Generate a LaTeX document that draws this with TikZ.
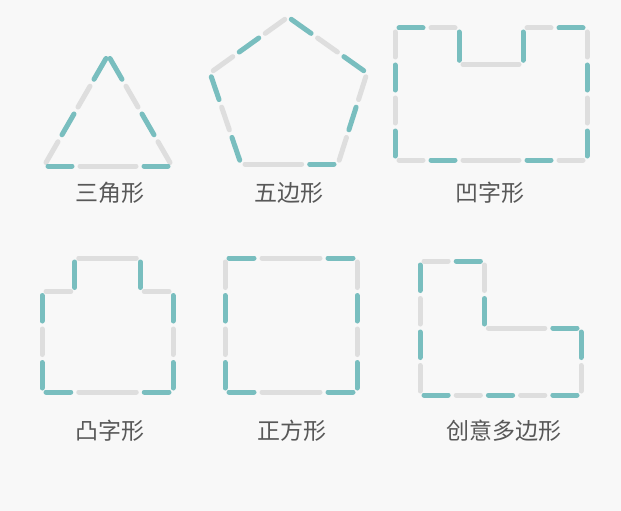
\documentclass[tikz,border=0pt]{standalone}
\usepackage{fontspec}
\newfontfamily\cjk{Noto Sans CJK SC}
\usepackage{tikz}
\usetikzlibrary{calc}
\definecolor{StickTeal}{RGB}{121,190,191}
\definecolor{StickGray}{RGB}{222,222,222}
\definecolor{PageBg}{RGB}{248,248,248}
\definecolor{LabelGray}{RGB}{88,88,88}
\tikzset{
	bar/.style={line width=5pt, line cap=round, shorten >=4pt, shorten <=4pt},
	tealbar/.style={bar, StickTeal},
	graybar/.style={bar, StickGray},
	shapelabel/.style={text=LabelGray, font=\cjk\fontsize{23}{27}\selectfont, inner sep=0pt},
}

\begin{document}
\begin{tikzpicture}[x=1pt, y=-1pt]
	
	% Background and page size
	\fill[PageBg] (0,0) rectangle (621,511);
	\useasboundingbox (0,0) rectangle (621,511);
	
	% Triangle
	\coordinate (TT) at (108,55);
	\coordinate (TL) at (44,166);
	\coordinate (TR) at (172,166);
	\foreach \c [count=\i from 0] in {tealbar,graybar,tealbar,graybar}{
		\draw[\c] ($(TT)!\i/4!(TL)$) -- ($(TT)!\i/4+0.25!(TL)$);
		\draw[\c] ($(TT)!\i/4!(TR)$) -- ($(TT)!\i/4+0.25!(TR)$);
	}
	\draw[tealbar] (TL) -- ($(TL)!0.25!(TR)$);
	\draw[graybar] ($(TL)!0.25!(TR)$) -- ($(TL)!0.75!(TR)$);
	\draw[tealbar] ($(TL)!0.75!(TR)$) -- (TR);
	\node[shapelabel] (lblTri) at (110,193) {三角形};
	
	% Pentagon
	\coordinate (PT) at (288,17);
	\coordinate (PL) at (210,73);
	\coordinate (PR) at (367,73);
	\coordinate (PBL) at (241,164);
	\coordinate (PBR) at (338,164);
	\foreach \p/\q/\ca/\cb/\cc in {PT/PL/graybar/tealbar/graybar,
		PT/PR/tealbar/graybar/tealbar,
		PL/PBL/tealbar/graybar/tealbar,
		PR/PBR/graybar/tealbar/graybar}{
		\draw[\ca] (\p) -- ($(\p)!1/3!(\q)$);
		\draw[\cb] ($(\p)!1/3!(\q)$) -- ($(\p)!2/3!(\q)$);
		\draw[\cc] ($(\p)!2/3!(\q)$) -- (\q);
	}
	\draw[graybar] (PBL) -- ($(PBL)!2/3!(PBR)$);
	\draw[tealbar] ($(PBL)!2/3!(PBR)$) -- (PBR);
	\node[shapelabel] (lblPenta) at (289,193) {五边形};
	
	% Concave (notch on top)
	\begin{scope}[shift={(395,28)}, x=32pt, y=-33pt]
		\draw[tealbar] (0,0) -- (1,0);
		\draw[graybar] (1,0) -- (2,0);
		\draw[tealbar] (2,0) -- (2,1.1);
		\draw[graybar] (2,1.1) -- (4,1.1);
		\draw[tealbar] (4,1.1) -- (4,0);
		\draw[graybar] (4,0) -- (5,0);
		\draw[tealbar] (5,0) -- (6,0);
		\foreach \x in {0,6}{
			\draw[graybar] (\x,0) -- (\x,1);
			\draw[tealbar] (\x,1) -- (\x,2);
			\draw[graybar] (\x,2) -- (\x,3);
			\draw[tealbar] (\x,3) -- (\x,4);
		}
		\draw[graybar] (0,4) -- (1,4);
		\draw[tealbar] (1,4) -- (2,4);
		\draw[graybar] (2,4) -- (4,4);
		\draw[tealbar] (4,4) -- (5,4);
		\draw[graybar] (5,4) -- (6,4);
	\end{scope}
	\node[shapelabel] (lblConcave) at (490,193) {凹字形};
	
	% Convex (bump on top)
	\begin{scope}[shift={(42,258)}, x=32.75pt, y=-33.5pt]
		\draw[graybar] (1,0) -- (3,0);
		\draw[tealbar] (1,0) -- (1,1);
		\draw[tealbar] (3,0) -- (3,1);
		\draw[graybar] (0,1) -- (1,1);
		\draw[graybar] (3,1) -- (4,1);
		\foreach \x in {0,4}{
			\draw[tealbar] (\x,1) -- (\x,2);
			\draw[graybar] (\x,2) -- (\x,3);
			\draw[tealbar] (\x,3) -- (\x,4);
		}
		\draw[tealbar] (0,4) -- (1,4);
		\draw[graybar] (1,4) -- (3,4);
		\draw[tealbar] (3,4) -- (4,4);
	\end{scope}
	\node[shapelabel] (lblConvex) at (110,431) {凸字形};
	
	% Square
	\begin{scope}[shift={(225,258)}, x=33pt, y=-33.5pt]
		\foreach \y in {0,4}{
			\draw[tealbar] (0,\y) -- (1,\y);
			\draw[graybar] (1,\y) -- (3,\y);
			\draw[tealbar] (3,\y) -- (4,\y);
		}
		\foreach \x in {0,4}{
			\draw[graybar] (\x,0) -- (\x,1);
			\draw[tealbar] (\x,1) -- (\x,2);
			\draw[graybar] (\x,2) -- (\x,3);
			\draw[tealbar] (\x,3) -- (\x,4);
		}
	\end{scope}
	\node[shapelabel] (lblSquare) at (292,431) {正方形};
	
	% Creative polygon (L shape)
	\begin{scope}[shift={(420,261)}, x=32.2pt, y=-33.5pt]
		\draw[graybar] (0,0) -- (1,0);
		\draw[tealbar] (1,0) -- (2,0);
		\draw[graybar] (2,0) -- (2,1);
		\draw[tealbar] (2,1) -- (2,2);
		\draw[graybar] (2,2) -- (4,2);
		\draw[tealbar] (4,2) -- (5,2);
		\draw[tealbar] (5,2) -- (5,3);
		\draw[graybar] (5,3) -- (5,4);
		\foreach \c [count=\i from 0] in {tealbar,graybar,tealbar,graybar,tealbar}
			\draw[\c] (\i,4) -- (\i+1,4);
		\foreach \c [count=\i from 0] in {tealbar,graybar,tealbar,graybar}
			\draw[\c] (0,\i) -- (0,\i+1);
	\end{scope}
	\node[shapelabel] (lblCreative) at (504,431) {创意多边形};
	
\end{tikzpicture}
\end{document}
